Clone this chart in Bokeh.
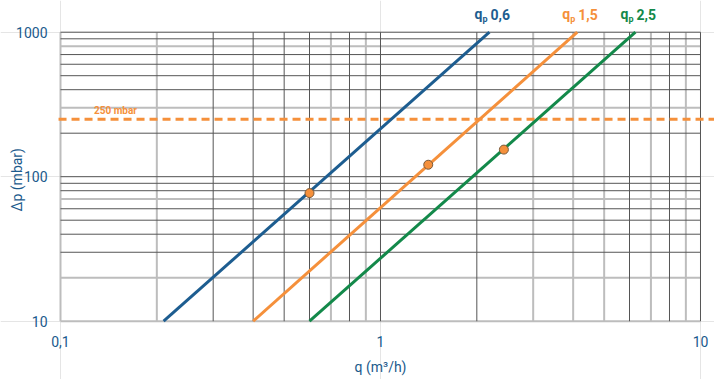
import math
from bokeh.plotting import figure
from bokeh.models import ColumnDataSource, Range1d
from bokeh.core.properties import value
from bokeh.embed import file_html
from bokeh.resources import INLINE

# ---------------- data ----------------
series_names = ["0,6", "1,5", "2,5"]
series_colors = ["#1d5d90", "#f5903b", "#13894a"]
q_start = [0.21, 0.40, 0.60]
q_end = [2.19, 4.12, 6.26]
dp_start = [10, 10, 10]
dp_end = [1000, 1000, 1000]

point_q = [0.60, 1.41, 2.43]
point_dp = [77, 121, 154]

limit_dp = 250
limit_label = "250 mbar"

x_ticks = [0.1, 1, 10]
x_tick_labels = ["0,1", "1", "10"]
y_ticks = [10, 100, 1000]
y_tick_labels = ["10", "100", "1000"]

grid_x_light = [0.1, 0.2, 0.7, 0.9, 3, 4, 5, 7, 9]
grid_x_dark = [0.3, 0.4, 0.5, 0.6, 0.8, 1, 2, 6, 8, 10]
grid_y_light = [10, 20, 70, 300, 800]
grid_y_dark = [30, 40, 50, 60, 80, 90, 100, 200, 400, 500, 600, 700, 900, 1000]

x_title = "q (m³/h)"
y_title = "Δp (mbar)"

# ---------------- styles ----------------
TEXT_BLUE = "#1b5a8c"
FONT = "Roboto"
LIGHT = "#bdbdbd"
DARK = "#555555"
ORANGE = "#f5903b"

X_LO, X_HI = 0.06494, 11.06
Y_LO, Y_HI = 3.95, 1657

p = figure(width=714, height=379,
           x_axis_type="log", y_axis_type="log",
           x_axis_location=None, y_axis_location=None,
           x_range=Range1d(X_LO, X_HI), y_range=Range1d(Y_LO, Y_HI),
           output_backend="svg", toolbar_location=None, title=None,
           min_border=0, min_border_left=0, min_border_right=0,
           min_border_top=0, min_border_bottom=0)
p.outline_line_color = None
p.background_fill_color = "white"
p.border_fill_color = "white"

xmin, xmax = x_ticks[0], x_ticks[-1]
ymin, ymax = y_ticks[0], y_ticks[-1]

# grid
p.segment(x0=grid_x_light, x1=grid_x_light, y0=[ymin] * len(grid_x_light), y1=[ymax] * len(grid_x_light),
          line_color=LIGHT, line_width=2)
p.segment(x0=[xmin] * len(grid_y_light), x1=[xmax] * len(grid_y_light), y0=grid_y_light, y1=grid_y_light,
          line_color=LIGHT, line_width=2)
p.segment(x0=grid_x_dark, x1=grid_x_dark, y0=[ymin] * len(grid_x_dark), y1=[ymax] * len(grid_x_dark),
          line_color=DARK, line_width=1)
p.segment(x0=[xmin] * len(grid_y_dark), x1=[xmax] * len(grid_y_dark), y0=grid_y_dark, y1=grid_y_dark,
          line_color=DARK, line_width=1)

# limit line
p.segment(x0=[0.0986], x1=[X_HI], y0=[limit_dp], y1=[limit_dp],
          line_color=ORANGE, line_width=3, line_dash="8 5")
p.text(x=[0.1485], y=[limit_dp], text=[limit_label], y_offset=-9,
       text_color=ORANGE, text_font=value(FONT), text_font_size="10px",
       text_font_style="bold", text_align="center", text_baseline="middle")

# series lines
src = ColumnDataSource(dict(x0=q_start, x1=q_end, y0=dp_start, y1=dp_end,
                            color=series_colors, name=series_names,
                            q=["q"] * 3, sub=["p"] * 3))
p.segment(x0="x0", x1="x1", y0="y0", y1="y1", source=src, line_color="color", line_width=3)

# series labels
p.text(x="x1", y="y1", text="q", source=src, x_offset=-15, y_offset=-18,
       text_color="color", text_font=value(FONT), text_font_size="14px", text_font_style="bold",
       text_align="left", text_baseline="middle")
p.text(x="x1", y="y1", text="sub", source=src, x_offset=-7, y_offset=-13,
       text_color="color", text_font=value(FONT), text_font_size="9px", text_font_style="bold",
       text_align="left", text_baseline="middle")
p.text(x="x1", y="y1", text="name", source=src, x_offset=1, y_offset=-18,
       text_color="color", text_font=value(FONT), text_font_size="14px", text_font_style="bold",
       text_align="left", text_baseline="middle")

# points
p.scatter(x=point_q, y=point_dp, size=9, fill_color=ORANGE, line_color="#7a5a3a", line_width=1)

# tick labels (placed through the scales at the tick values)
p.text(x=[xmin] * len(y_ticks), y=y_ticks, text=y_tick_labels, x_offset=-13,
       text_color=TEXT_BLUE, text_font=value(FONT), text_font_size="14px",
       text_align="right", text_baseline="middle")
p.text(x=x_ticks, y=[ymin] * len(x_ticks), text=x_tick_labels, y_offset=20,
       text_color=TEXT_BLUE, text_font=value(FONT), text_font_size="14px",
       text_align="center", text_baseline="middle")

# axis titles
p.text(x=[1.0], y=[ymin], text=[x_title], y_offset=46,
       text_color=TEXT_BLUE, text_font=value(FONT), text_font_size="14px",
       text_align="center", text_baseline="middle")
p.text(x=[xmin], y=[100], text=[y_title], x_offset=-43, y_offset=3, angle=math.pi / 2,
       text_color=TEXT_BLUE, text_font=value(FONT), text_font_size="14px",
       text_align="center", text_baseline="middle")

open("out.html", "w").write(file_html(p, INLINE))
